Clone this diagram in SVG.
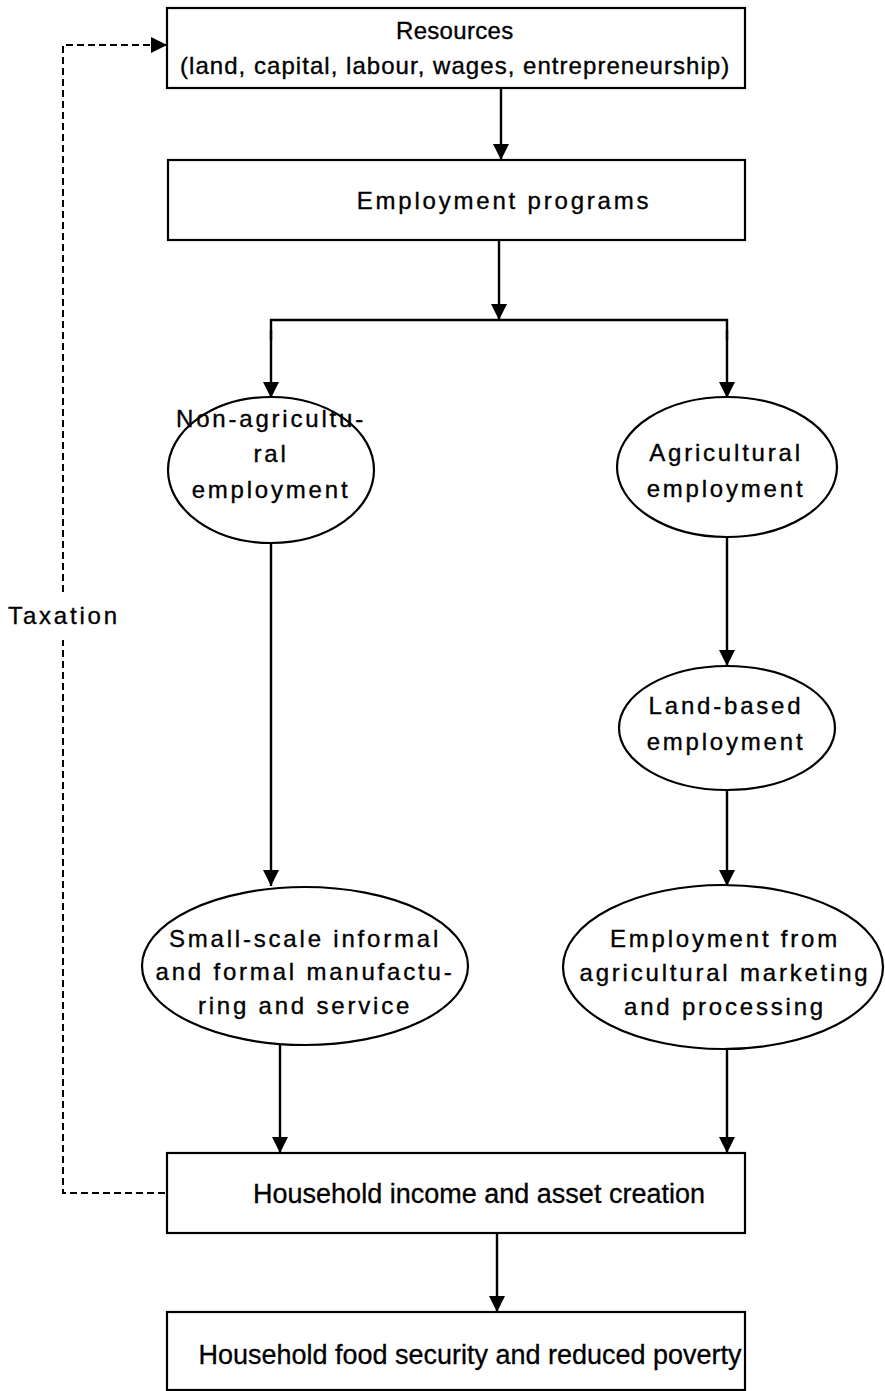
<svg xmlns="http://www.w3.org/2000/svg" width="885" height="1391" viewBox="0 0 885 1391">
<defs>
<marker id="ah" markerWidth="16" markerHeight="18" refX="16" refY="8" orient="auto" markerUnits="userSpaceOnUse">
<path d="M0,0 L16,8 L0,16 Z" fill="#000"/>
</marker>
<style>
.box{fill:#fff;stroke:#000;stroke-width:2.2}
.el{fill:#fff;stroke:#000;stroke-width:2.2}
.t{font-family:"Liberation Sans",Arial,sans-serif;font-size:24px;fill:#000;stroke:#000;stroke-width:0.35;text-anchor:middle;letter-spacing:2.8px}
.n{font-family:"Liberation Sans Narrow","Liberation Sans",Arial,sans-serif;font-size:27px;fill:#000;stroke:#000;stroke-width:0.3;text-anchor:middle}
.c{fill:none;stroke:#000;stroke-width:2.4}
.d{fill:none;stroke:#000;stroke-width:2;stroke-dasharray:7,4}
</style>
</defs>
<rect width="885" height="1391" fill="#fff"/>
<g id="connectors">
<line class="c" x1="501" y1="88" x2="501" y2="160" marker-end="url(#ah)"/>
<line class="c" x1="499" y1="240" x2="499" y2="320" marker-end="url(#ah)"/>
<polyline class="c" points="271,340 271,320 727,320 727,340"/>
<line class="c" x1="271" y1="330" x2="271" y2="398" marker-end="url(#ah)"/>
<line class="c" x1="727" y1="330" x2="727" y2="398" marker-end="url(#ah)"/>
<line class="c" x1="727" y1="537" x2="727" y2="666" marker-end="url(#ah)"/>
<line class="c" x1="271" y1="544" x2="271" y2="886" marker-end="url(#ah)"/>
<line class="c" x1="727" y1="790" x2="727" y2="886" marker-end="url(#ah)"/>
<line class="c" x1="280" y1="1045" x2="280" y2="1153" marker-end="url(#ah)"/>
<line class="c" x1="727" y1="1049" x2="727" y2="1153" marker-end="url(#ah)"/>
<line class="c" x1="497" y1="1233" x2="497" y2="1312" marker-end="url(#ah)"/>
<polyline class="d" points="165,1193 63,1193 63,640"/>
<polyline class="d" points="63,592 63,45 167,45" marker-end="url(#ah)"/>
<text class="t" x="64" y="624">Taxation</text>
</g>
<g id="resources">
<rect class="box" x="167" y="8" width="578" height="80"/>
<text class="t" x="456" y="39" textLength="120" lengthAdjust="spacing">Resources</text>
<text class="t" x="456" y="74" textLength="552" lengthAdjust="spacing">(land, capital, labour, wages, entrepreneurship)</text>
</g>
<g id="programs">
<rect class="box" x="168" y="160" width="577" height="80"/>
<text class="t" x="504" y="209">Employment programs</text>
</g>
<g id="nonagri">
<ellipse class="el" cx="271" cy="470" rx="103" ry="73"/>
<text class="t" x="271" y="427">Non-agricultu-</text>
<text class="t" x="271" y="462">ral</text>
<text class="t" x="271" y="498">employment</text>
</g>
<g id="agri">
<ellipse class="el" cx="727" cy="467" rx="110" ry="70"/>
<text class="t" x="726" y="461">Agricultural</text>
<text class="t" x="726" y="497">employment</text>
</g>
<g id="land">
<ellipse class="el" cx="727" cy="728" rx="108" ry="62"/>
<text class="t" x="726" y="714">Land-based</text>
<text class="t" x="726" y="750">employment</text>
</g>
<g id="smallscale">
<ellipse class="el" cx="305" cy="966" rx="163" ry="79"/>
<text class="t" x="305" y="947">Small-scale informal</text>
<text class="t" x="305" y="980">and formal manufactu-</text>
<text class="t" x="305" y="1014">ring and service</text>
</g>
<g id="marketing">
<ellipse class="el" cx="723" cy="967" rx="160" ry="82"/>
<text class="t" x="725" y="947">Employment from</text>
<text class="t" x="725" y="981">agricultural marketing</text>
<text class="t" x="725" y="1015">and processing</text>
</g>
<g id="income">
<rect class="box" x="167" y="1153" width="578" height="80"/>
<text class="n" x="479" y="1203" textLength="452" lengthAdjust="spacingAndGlyphs">Household income and asset creation</text>
</g>
<g id="food">
<rect class="box" x="167" y="1312" width="578" height="78"/>
<text class="n" x="470" y="1364" textLength="543" lengthAdjust="spacingAndGlyphs">Household food security and reduced poverty</text>
</g>
</svg>
